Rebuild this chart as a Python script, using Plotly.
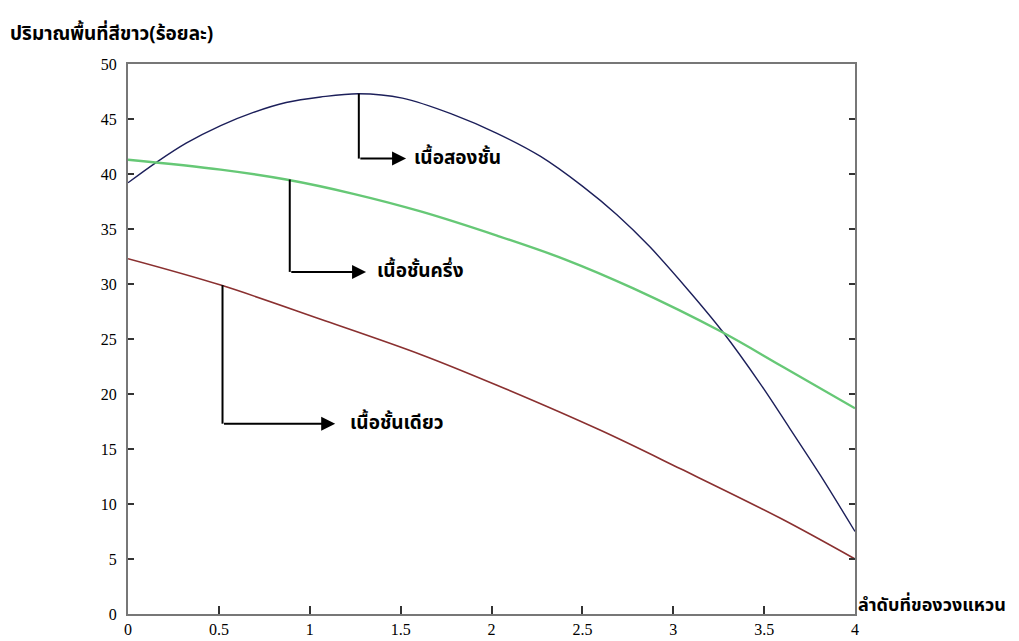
import plotly.graph_objects as go

# Data
x_double = [0, 0.16, 0.32, 0.51, 0.69, 0.87, 1.06, 1.27, 1.51, 1.79, 2.03, 2.27, 2.50, 2.69, 2.87, 3.09, 3.27, 3.48, 3.64, 3.81, 4.0]
y_double = [39.2, 41.1, 42.8, 44.4, 45.6, 46.5, 47.0, 47.3, 46.9, 45.4, 43.7, 41.6, 38.9, 36.3, 33.4, 29.3, 25.7, 20.9, 16.9, 12.6, 7.5]

x_half = [0, 0.51, 0.87, 1.24, 1.61, 2.03, 2.41, 2.78, 3.26, 3.60, 4.0]
y_half = [41.3, 40.4, 39.5, 38.2, 36.6, 34.4, 32.2, 29.6, 25.7, 22.5, 18.7]

x_single = [0, 0.51, 1.06, 1.61, 2.03, 2.60, 3.04, 3.59, 4.0]
y_single = [32.3, 29.9, 26.8, 23.6, 20.8, 16.7, 13.2, 8.7, 5.0]

x_ticks = [0, 0.5, 1, 1.5, 2, 2.5, 3, 3.5, 4]
y_ticks = [0, 5, 10, 15, 20, 25, 30, 35, 40, 45, 50]

labels = ["เนื้อสองชั้น", "เนื้อชั้นครึ่ง", "เนื้อชั้นเดียว"]
# callouts: x of vertical line, y on curve, y of elbow, x of arrow tip, x of text
callout_x = [1.27, 0.89, 0.52]
callout_top = [47.3, 39.5, 29.9]
callout_bottom = [41.4, 31.1, 17.3]
callout_tip = [1.53, 1.31, 1.14]
callout_text_x = [1.56, 1.36, 1.21]

thai_font = "Noto Sans Thai, Tahoma, Loma, Garuda, sans-serif"
serif = "Liberation Serif, Times New Roman, serif"

fig = go.Figure()
fig.add_trace(go.Scatter(x=x_double, y=y_double, mode="lines",
                         line=dict(color="#1c1f5a", width=1.4, shape="spline", smoothing=1.0), name=labels[0]))
fig.add_trace(go.Scatter(x=x_half, y=y_half, mode="lines",
                         line=dict(color="#66c876", width=2.4, shape="spline", smoothing=1.0), name=labels[1]))
fig.add_trace(go.Scatter(x=x_single, y=y_single, mode="lines",
                         line=dict(color="#8a3030", width=1.6, shape="spline", smoothing=1.0), name=labels[2]))

for i in range(3):
    fig.add_shape(type="line", x0=callout_x[i], x1=callout_x[i], y0=callout_top[i], y1=callout_bottom[i],
                  xref="x", yref="y", line=dict(color="black", width=2))
    fig.add_annotation(x=callout_tip[i], y=callout_bottom[i], ax=callout_x[i], ay=callout_bottom[i],
                       xref="x", yref="y", axref="x", ayref="y", showarrow=True, arrowhead=2,
                       arrowsize=1.4, arrowwidth=2, arrowcolor="black", text="")
    fig.add_annotation(x=callout_text_x[i], y=callout_bottom[i], xref="x", yref="y",
                       text="<b>" + labels[i] + "</b>", showarrow=False, xanchor="left", yanchor="middle",
                       font=dict(family=thai_font, size=19, color="black"))

# axis titles
fig.add_annotation(x=-120 / 727, y=1 + 29 / 550, xref="paper", yref="paper",
                   text="<b>ปริมาณพื้นที่สีขาว(ร้อยละ)</b>", showarrow=False, xanchor="left", yanchor="middle",
                   font=dict(family=thai_font, size=19, color="black"))
fig.add_annotation(x=1.002, y=0.016, xref="paper", yref="paper", text="<b>ลำดับที่ของวงแหวน</b>",
                   showarrow=False, xanchor="left", yanchor="middle",
                   font=dict(family=thai_font, size=18, color="black"))

fig.update_layout(
    width=1011, height=633,
    margin=dict(l=120, r=164, t=56, b=27, autoexpand=False),
    plot_bgcolor="white", paper_bgcolor="white",
    showlegend=False,
    font=dict(family=serif, size=16, color="black"),
)
fig.update_xaxes(range=[0, 4], tickvals=x_ticks, ticktext=[("%g" % v) for v in x_ticks],
                 showgrid=False, zeroline=False, showline=True, linecolor="#777777", linewidth=2,
                 mirror=True, ticks="inside", ticklen=8, tickwidth=1.5, tickcolor="#333333",
                 tickfont=dict(family=serif, size=16, color="black"))
fig.update_yaxes(range=[0, 50], tickvals=y_ticks, showgrid=False, zeroline=False, showline=True,
                 linecolor="#777777", linewidth=2, mirror="ticks", ticks="inside", ticklen=6,
                 tickwidth=1.5, tickcolor="#333333", ticklabelstandoff=6,
                 tickfont=dict(family=serif, size=16, color="black"))

fig.write_html("out.html")
